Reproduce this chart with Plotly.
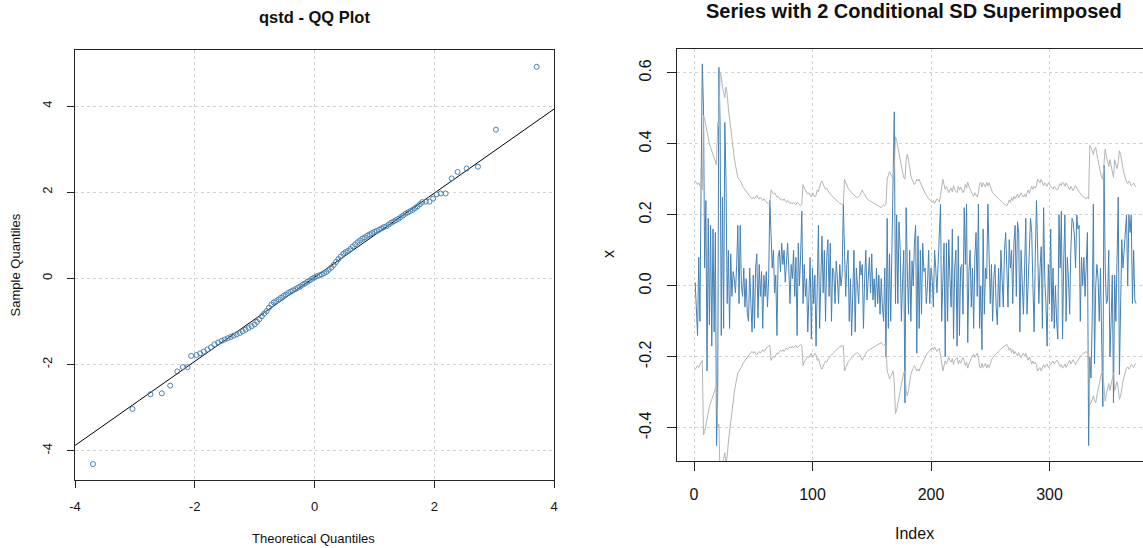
import plotly.graph_objects as go

# ---------------- data: QQ plot ----------------
qq_theoretical = [
    -3.70, -3.04, -2.74, -2.55, -2.41, -2.29, -2.20, -2.12, -2.06,
    -1.97, -1.91, -1.85, -1.79, -1.73, -1.67, -1.61, -1.55,
    -1.50, -1.45, -1.40, -1.35, -1.30, -1.25, -1.20, -1.15, -1.10, -1.05, -1.00,
    -0.96, -0.92, -0.88, -0.84, -0.80, -0.76, -0.72, -0.68, -0.64, -0.60,
    -0.56, -0.52, -0.48, -0.44, -0.40, -0.36, -0.32, -0.28, -0.24, -0.20,
    -0.16, -0.12, -0.08, -0.04, 0.00, 0.04, 0.08, 0.12, 0.16, 0.20,
    0.24, 0.28, 0.32, 0.36, 0.40, 0.44, 0.48, 0.52, 0.56, 0.60,
    0.64, 0.68, 0.72, 0.76, 0.80, 0.84, 0.88, 0.92, 0.96, 1.00,
    1.04, 1.08, 1.12, 1.16, 1.20, 1.24, 1.28, 1.32, 1.36, 1.40,
    1.44, 1.48, 1.52, 1.56, 1.60, 1.64, 1.68, 1.72, 1.76, 1.80,
    1.86, 1.92, 1.98,
    2.04, 2.11, 2.19, 2.29, 2.39, 2.54, 2.73, 3.03, 3.71,
]
qq_sample = [
    -4.31, -3.03, -2.69, -2.67, -2.49, -2.16, -2.06, -2.06, -1.80,
    -1.78, -1.74, -1.70, -1.65, -1.60, -1.53, -1.49, -1.45,
    -1.42, -1.39, -1.36, -1.33, -1.30, -1.27, -1.23, -1.19, -1.15, -1.11, -1.07,
    -1.01, -0.95, -0.88, -0.82, -0.76, -0.68, -0.61, -0.56, -0.53, -0.49,
    -0.45, -0.41, -0.38, -0.34, -0.31, -0.28, -0.25, -0.22, -0.19, -0.15,
    -0.12, -0.08, -0.05, -0.01, 0.02, 0.05, 0.07, 0.09, 0.12, 0.15,
    0.20, 0.25, 0.31, 0.38, 0.45, 0.51, 0.57, 0.61, 0.64, 0.68,
    0.74, 0.79, 0.84, 0.88, 0.92, 0.95, 0.99, 1.02, 1.05, 1.08,
    1.10, 1.13, 1.16, 1.19, 1.21, 1.25, 1.29, 1.32, 1.35, 1.38,
    1.42, 1.46, 1.50, 1.53, 1.56, 1.59, 1.63, 1.67, 1.72, 1.77,
    1.78, 1.78, 1.85,
    1.95, 1.97, 1.97, 2.32, 2.47, 2.55, 2.59, 3.45, 4.91,
]
qq_line_intercept = 0.025
qq_line_slope = 0.976

qq_xticks = [-4, -2, 0, 2, 4]
qq_xticktext = ["-4", "-2", "0", "2", "4"]
qq_yticks = [-4, -2, 0, 2, 4]
qq_yticktext = ["-4", "-2", "0", "2", "4"]

# ---------------- data: series with conditional SD ----------------
series = [
    0.01, -0.07, -0.14, 0.08, -0.10, 0.30, 0.625, 0.50, 0.05, 0.24,
    -0.24, 0.19, -0.11, 0.17, -0.17, 0.16, -0.13, 0.15, -0.45, -0.30,
    0.615, 0.46, -0.14, 0.25, -0.12, 0.46, 0.30, -0.05, 0.10, -0.12,
    0.09, -0.03, 0.04, 0.02, -0.02, 0.06, 0.17, -0.05, 0.17, 0.00,
    -0.03, 0.05, -0.06, 0.02, -0.08, -0.10, 0.05, -0.05, -0.13, 0.03,
    -0.12, 0.05, 0.09, -0.09, 0.06, -0.03, 0.04, -0.12, 0.03, -0.03,
    0.04, -0.06, 0.02, 0.24, 0.12, 0.05, 0.10, -0.02, 0.03, -0.14,
    0.08, 0.10, 0.04, 0.12, 0.06, 0.10, 0.01, 0.07, 0.12, 0.05,
    -0.05, 0.06, 0.02, 0.10, -0.03, 0.08, -0.14, 0.12, 0.00, 0.09,
    0.21, -0.05, 0.06, -0.03, 0.02, -0.13, 0.00, 0.08, -0.15, 0.05,
    -0.05, 0.03, -0.17, 0.02, 0.17, -0.12, 0.06, 0.14, -0.02, 0.10,
    -0.10, 0.08, 0.13, -0.03, 0.12, -0.10, 0.05, 0.04, -0.05, 0.07,
    0.02, -0.05, 0.06, 0.00, 0.03, 0.23, 0.10, -0.03, 0.06, 0.10,
    -0.10, 0.02, -0.14, -0.02, 0.10, -0.13, 0.05, 0.00, -0.05, 0.07,
    0.03, 0.06, -0.12, 0.02, 0.10, -0.04, 0.04, 0.08, -0.02, 0.09,
    -0.04, 0.02, -0.06, 0.05, -0.05, 0.03, -0.08, 0.02, -0.06, -0.10,
    0.05, -0.20, 0.19, -0.12, 0.09, -0.10, 0.10, 0.26, 0.49, -0.05,
    0.20, -0.05, 0.18, 0.10, -0.10, 0.01, 0.10, -0.33, 0.22, 0.05,
    -0.08, 0.10, -0.10, 0.07, 0.00, 0.12, 0.17, -0.19, 0.14, -0.12,
    0.10, -0.08, 0.12, 0.04, 0.05, -0.05, 0.00, 0.10, -0.05, 0.05,
    0.02, -0.06, 0.10, 0.05, -0.02, 0.06, 0.18, 0.23, -0.10, 0.06,
    0.12, -0.20, 0.12, -0.10, 0.13, 0.02, -0.06, 0.16, -0.15, 0.05,
    0.10, -0.17, 0.14, -0.14, 0.05, 0.06, -0.08, 0.22, 0.06, 0.23,
    -0.16, 0.04, 0.10, -0.06, 0.05, -0.12, 0.08, 0.15, -0.03, 0.23,
    -0.12, 0.00, -0.18, 0.16, -0.08, 0.05, 0.02, 0.23, 0.05, -0.05,
    0.06, -0.10, 0.02, 0.06, -0.06, -0.11, 0.05, -0.06, 0.10, 0.02,
    -0.06, 0.10, 0.15, 0.05, -0.06, 0.13, 0.05, 0.10, -0.05, 0.12,
    0.17, -0.03, 0.18, 0.15, -0.13, 0.10, 0.02, -0.08, 0.05, 0.19,
    -0.08, 0.05, 0.10, 0.19, 0.15, 0.00, -0.13, 0.08, 0.24, 0.10,
    -0.05, 0.05, 0.11, -0.12, 0.22, 0.02, -0.05, -0.17, 0.06, -0.05,
    0.16, -0.10, 0.05, -0.12, 0.00, -0.10, -0.15, 0.20, 0.05, 0.21,
    -0.15, 0.07, 0.20, -0.10, 0.08, 0.02, -0.08, 0.10, 0.19, 0.18,
    0.14, 0.05, 0.20, 0.16, 0.17, -0.10, 0.08, 0.00, 0.08, -0.03,
    0.08, 0.15, -0.45, -0.20, -0.26, -0.10, 0.23, -0.22, 0.00, 0.06,
    0.02, -0.10, 0.05, -0.10, -0.34, 0.34, 0.05, -0.05, -0.04, 0.10,
    -0.20, -0.10, 0.03, -0.33, 0.03, -0.10, 0.05, 0.25, -0.25, 0.00,
    0.13, 0.05, 0.10, 0.13, 0.20, 0.00, 0.20, 0.15, 0.20, -0.05,
    0.10, -0.04, -0.05,
]

# two times the conditional standard deviation at each index
two_cond_sd = [
    0.266, 0.260, 0.255, 0.260, 0.250, 0.245, 0.240, 0.450, 0.440, 0.420,
    0.410, 0.390, 0.370, 0.360, 0.350, 0.340, 0.330, 0.320, 0.310, 0.430,
    0.420, 0.570, 0.560, 0.530, 0.515, 0.500, 0.530, 0.510, 0.470, 0.440,
    0.410, 0.380, 0.350, 0.330, 0.310, 0.290, 0.275, 0.270, 0.265, 0.260,
    0.250, 0.245, 0.240, 0.235, 0.230, 0.225, 0.220, 0.218, 0.215, 0.220,
    0.215, 0.220, 0.225, 0.218, 0.215, 0.220, 0.215, 0.210, 0.215, 0.210,
    0.205, 0.202, 0.200, 0.198, 0.240, 0.235, 0.228, 0.232, 0.225, 0.220,
    0.222, 0.218, 0.212, 0.215, 0.210, 0.215, 0.208, 0.205, 0.210, 0.206,
    0.202, 0.205, 0.200, 0.205, 0.202, 0.198, 0.205, 0.202, 0.198, 0.195,
    0.200, 0.255, 0.245, 0.238, 0.232, 0.228, 0.232, 0.225, 0.220, 0.232,
    0.225, 0.220, 0.225, 0.240, 0.235, 0.250, 0.260, 0.265, 0.255, 0.248,
    0.242, 0.245, 0.238, 0.232, 0.228, 0.225, 0.220, 0.218, 0.214, 0.210,
    0.208, 0.205, 0.202, 0.200, 0.198, 0.198, 0.270, 0.260, 0.252, 0.245,
    0.240, 0.238, 0.232, 0.228, 0.225, 0.222, 0.220, 0.218, 0.222, 0.225,
    0.232, 0.240, 0.232, 0.228, 0.220, 0.215, 0.212, 0.210, 0.208, 0.206,
    0.202, 0.200, 0.198, 0.196, 0.195, 0.194, 0.192, 0.190, 0.195, 0.198,
    0.195, 0.200, 0.270, 0.280, 0.292, 0.285, 0.275, 0.270, 0.300, 0.390,
    0.380, 0.360, 0.340, 0.320, 0.305, 0.290, 0.275, 0.270, 0.325, 0.340,
    0.325, 0.300, 0.280, 0.270, 0.262, 0.255, 0.260, 0.270, 0.265, 0.270,
    0.260, 0.252, 0.245, 0.238, 0.230, 0.225, 0.220, 0.215, 0.212, 0.208,
    0.205, 0.210, 0.202, 0.208, 0.215, 0.210, 0.206, 0.225, 0.250, 0.270,
    0.255, 0.242, 0.250, 0.238, 0.232, 0.240, 0.245, 0.235, 0.252, 0.240,
    0.235, 0.232, 0.250, 0.240, 0.248, 0.238, 0.232, 0.240, 0.255, 0.245,
    0.262, 0.250, 0.240, 0.235, 0.228, 0.222, 0.232, 0.225, 0.220, 0.232,
    0.258, 0.262, 0.248, 0.260, 0.255, 0.248, 0.262, 0.252, 0.260, 0.248,
    0.240, 0.232, 0.228, 0.225, 0.220, 0.216, 0.215, 0.212, 0.208, 0.205,
    0.202, 0.200, 0.198, 0.195, 0.202, 0.212, 0.205, 0.218, 0.210, 0.222,
    0.215, 0.220, 0.228, 0.218, 0.225, 0.232, 0.225, 0.220, 0.228, 0.220,
    0.232, 0.240, 0.230, 0.242, 0.250, 0.242, 0.250, 0.245, 0.252, 0.270,
    0.265, 0.260, 0.270, 0.258, 0.252, 0.260, 0.255, 0.250, 0.260, 0.255,
    0.250, 0.245, 0.242, 0.250, 0.245, 0.240, 0.242, 0.250, 0.258, 0.252,
    0.262, 0.258, 0.250, 0.260, 0.252, 0.245, 0.240, 0.250, 0.242, 0.238,
    0.245, 0.252, 0.245, 0.240, 0.232, 0.228, 0.225, 0.222, 0.220, 0.218,
    0.215, 0.220, 0.215, 0.365, 0.360, 0.350, 0.340, 0.355, 0.360, 0.340,
    0.320, 0.305, 0.290, 0.275, 0.270, 0.315, 0.355, 0.335, 0.315, 0.305,
    0.325, 0.305, 0.290, 0.275, 0.325, 0.315, 0.300, 0.320, 0.350, 0.340,
    0.315, 0.300, 0.285, 0.270, 0.262, 0.258, 0.265, 0.260, 0.252, 0.255,
    0.260, 0.252, 0.250,
]
cond_mean = 0.03

ts_xticks = [0, 100, 200, 300]
ts_xticktext = ["0", "100", "200", "300"]
ts_yticks = [-0.4, -0.2, 0.0, 0.2, 0.4, 0.6]
ts_yticktext = ["-0.4", "-0.2", "0.0", "0.2", "0.4", "0.6"]

# ---------------- figure ----------------
W, H = 1143, 548
FONT = "Liberation Sans, Arial, sans-serif"
STEEL = "#4682B4"
GRID = "#d3d3d3"

n = min(len(series), len(two_cond_sd))
idx = list(range(1, n + 1))
upper = [cond_mean + s for s in two_cond_sd[:n]]
lower = [cond_mean - s for s in two_cond_sd[:n]]

fig = go.Figure()

# QQ line
line_x = [-4.5, 4.5]
line_y = [qq_line_intercept + qq_line_slope * v for v in line_x]
fig.add_trace(go.Scatter(x=line_x, y=line_y, mode="lines",
                         line=dict(color="black", width=1),
                         xaxis="x", yaxis="y", hoverinfo="skip"))
fig.add_trace(go.Scatter(x=qq_theoretical, y=qq_sample, mode="markers",
                         marker=dict(symbol="circle-open", size=5, color=STEEL,
                                     line=dict(width=1, color=STEEL)),
                         xaxis="x", yaxis="y", cliponaxis=True))

# series and bands
fig.add_trace(go.Scatter(x=idx, y=series[:n], mode="lines",
                         line=dict(color=STEEL, width=1),
                         xaxis="x2", yaxis="y2"))
fig.add_trace(go.Scatter(x=idx, y=upper, mode="lines",
                         line=dict(color="#b4b4b4", width=1),
                         xaxis="x2", yaxis="y2"))
fig.add_trace(go.Scatter(x=idx, y=lower, mode="lines",
                         line=dict(color="#b4b4b4", width=1),
                         xaxis="x2", yaxis="y2"))

common_axis = dict(
    showline=True, linecolor="#222", linewidth=1,
    ticks="outside", tickcolor="#222", tickwidth=1,
    showgrid=True, gridcolor=GRID, griddash="dot", gridwidth=1,
    zeroline=False, tickmode="array", automargin=False,
)

fig.update_layout(
    width=W, height=H,
    margin=dict(l=0, r=0, t=0, b=0, autoexpand=False),
    paper_bgcolor="white", plot_bgcolor="white",
    showlegend=False,
    font=dict(family=FONT, color="#111"),
    xaxis=dict(domain=[75 / W, 554 / W], range=[-4, 4], anchor="y",
               tickvals=qq_xticks, ticktext=qq_xticktext, ticklen=7,
               tickfont=dict(size=13, family=FONT), ticklabelstandoff=7,
               mirror=True, **common_axis),
    yaxis=dict(domain=[1 - 480 / H, 1 - 50 / H], range=[-4.68, 5.30], anchor="x",
               tickvals=qq_yticks, ticktext=qq_yticktext, ticklen=7, tickangle=-90,
               tickfont=dict(size=13, family=FONT), ticklabelstandoff=10,
               mirror=True, **common_axis),
    xaxis2=dict(domain=[677.3 / W, 1.0], range=[-14.1, 378.9], anchor="y2",
                tickvals=ts_xticks, ticktext=ts_xticktext, ticklen=9,
                tickfont=dict(size=16, family=FONT), ticklabelstandoff=10,
                mirror=True, **common_axis),
    yaxis2=dict(domain=[1 - 461.2 / H, 1 - 48.6 / H], range=[-0.494, 0.668], anchor="x2",
                tickvals=ts_yticks, ticktext=ts_yticktext, ticklen=9, tickangle=-90,
                tickfont=dict(size=16, family=FONT), ticklabelstandoff=10,
                mirror=False, **common_axis),
)

def ann(text, x, y, size, bold=False, angle=0):
    fig.add_annotation(
        text=f"<b>{text}</b>" if bold else text,
        x=x / W, y=1 - y / H, xref="paper", yref="paper",
        xanchor="center", yanchor="middle", showarrow=False,
        textangle=angle, font=dict(size=size, family=FONT, color="#111"),
    )

ann("qstd - QQ Plot", 314, 16.8, 16.5, bold=True)
ann("Theoretical Quantiles", 313.6, 538, 13)
ann("Sample Quantiles", 16.4, 265, 13, angle=-90)
ann("Series with 2 Conditional SD Superimposed", 914, 11, 20, bold=True)
ann("Index", 914.5, 533, 16)
ann("x", 609, 254, 16, angle=-90)

fig.write_html("out.html")
